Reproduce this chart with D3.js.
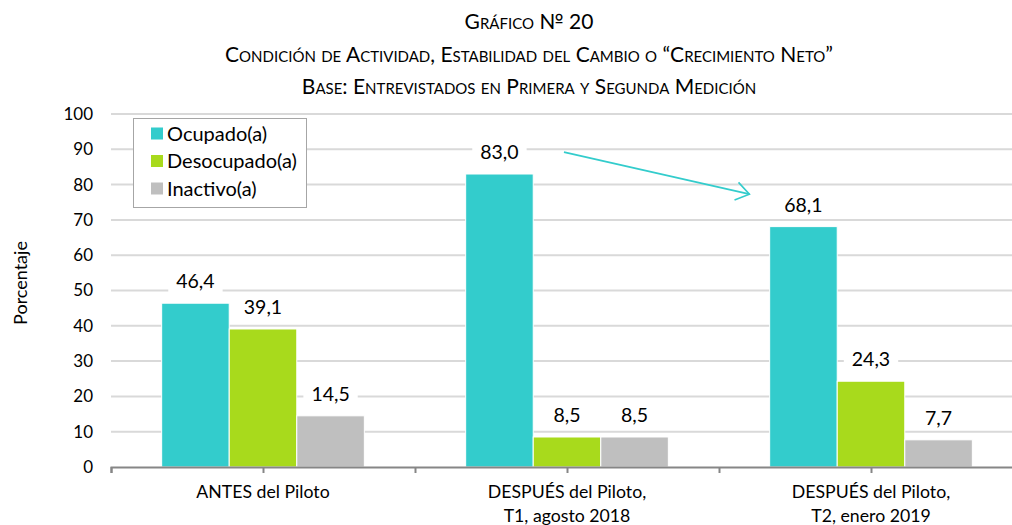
<!DOCTYPE html>
<html><head><meta charset="utf-8">
<script src="https://cdn.jsdelivr.net/npm/d3@7"></script>
<style>
html,body{margin:0;padding:0;background:#fff;}
text{font-family:Lato,"Open Sans",sans-serif;fill:#000;}
</style></head>
<body><svg id="c" width="1012" height="525"></svg>
<script>
const categories = [["ANTES del Piloto"], ["DESPUÉS del Piloto,", "T1, agosto 2018"], ["DESPUÉS del Piloto,", "T2, enero 2019"]];
const seriesNames = ["Ocupado(a)", "Desocupado(a)", "Inactivo(a)"];
const seriesColors = ["#33CCCC", "#A8DA1C", "#BFBFBF"];
const ocupado = [46.4, 83.0, 68.1];
const desocupado = [39.1, 8.5, 24.3];
const inactivo = [14.5, 8.5, 7.7];
const yTicks = [0,10,20,30,40,50,60,70,80,90,100];
const titleLines = ["Gráfico № 20", "Condición de Actividad, Estabilidad del Cambio o “Crecimiento Neto”", "Base: Entrevistados en Primera y Segunda Medición"];
const yTitle = "Porcentaje";
// arrow annotation (category index position, value)
const arrowFrom = [1.49, 89.2];
const arrowTo = [2.1, 77.3];

const values = [ocupado, desocupado, inactivo];
const svg = d3.select("#c");
const L = 111, R = 1023, T = 114, B = 467;

const x = d3.scaleBand().domain(d3.range(categories.length)).range([L, R]).padding(0);
const xs = d3.scaleBand().domain(d3.range(seriesNames.length)).range([0, x.bandwidth()]).paddingInner(0).paddingOuter(0.75);
const xi = d3.scaleLinear().domain([0, categories.length]).range([L, R]);
const y = d3.scaleLinear().domain([0, 100]).range([B, T]);

// title
const tg = svg.append("g");
titleLines.forEach((t, i) => {
  tg.append("text").attr("x", 529).attr("y", [29, 62, 94][i]).attr("text-anchor", "middle")
    .style("font-variant", "small-caps").style("font-size", "21px").text(t);
});

// gridlines
svg.append("g").selectAll("line").data(yTicks.filter(d => d > 0)).join("line")
  .attr("x1", L).attr("x2", R).attr("y1", d => y(d)).attr("y2", d => y(d))
  .attr("stroke", "#D9D9D9").attr("stroke-width", 2);

// y axis labels
const ya = svg.append("g").attr("transform", `translate(${L},0)`)
  .call(d3.axisLeft(y).tickValues(yTicks).tickSize(0).tickPadding(18));
ya.select(".domain").remove();
ya.selectAll("text").style("font-family", "Lato,'Open Sans',sans-serif").style("font-size", "17px").attr("fill", "#000");

// y title
svg.append("text").attr("transform", `translate(27,283) rotate(-90)`).attr("text-anchor", "middle")
  .style("font-size", "18px").text(yTitle);

// bars
const bars = svg.append("g");
values.forEach((vals, s) => {
  bars.selectAll(null).data(vals).join("rect")
    .attr("x", (d, i) => x(i) + xs(s)).attr("width", xs.bandwidth())
    .attr("y", d => y(d)).attr("height", d => B - y(d))
    .attr("fill", seriesColors[s]).attr("stroke", "#fff").attr("stroke-width", 1);
});

// x axis
const xa = svg.append("g").attr("transform", `translate(0,${B})`)
  .call(d3.axisBottom(xi).tickValues(d3.range(0, categories.length + 0.01, 0.5)).tickSize(6).tickFormat(""));
xa.select(".domain").attr("stroke", "#868686").attr("stroke-width", 2);
xa.selectAll(".tick line").attr("stroke", "#868686").attr("stroke-width", 2);

// category labels
categories.forEach((lines, i) => {
  lines.forEach((ln, j) => {
    svg.append("text").attr("x", x(i) + x.bandwidth() / 2).attr("y", 498 + j * 24)
      .attr("text-anchor", "middle").style("font-size", "17.7px").text(ln);
  });
});

// data labels
const fmt = v => d3.format(".1f")(v).replace(".", ",");
const lg = svg.append("g");
values.forEach((vals, s) => {
  vals.forEach((v, i) => {
    const cx = x(i) + xs(s) + xs.bandwidth() / 2;
    const by = y(v) - 15;
    const g = lg.append("g");
    const t = g.append("text").attr("x", cx).attr("y", by).attr("text-anchor", "middle")
      .style("font-size", "19.5px").text(fmt(v));
    const bb = t.node().getBBox();
    g.insert("rect", "text").attr("x", bb.x - 8).attr("y", bb.y - 1).attr("width", bb.width + 16).attr("height", bb.height + 2).attr("fill", "#fff");
  });
});

// arrow
const ax1 = xi(arrowFrom[0]), ay1 = y(arrowFrom[1]), ax2 = xi(arrowTo[0]), ay2 = y(arrowTo[1]);
const ang = Math.atan2(ay2 - ay1, ax2 - ax1);
const hl = 16, ha = 0.6;
svg.append("line").attr("x1", ax1).attr("y1", ay1).attr("x2", ax2).attr("y2", ay2)
  .attr("stroke", "#33CCCC").attr("stroke-width", 1.6);
svg.append("path").attr("d", `M${ax2 - hl * Math.cos(ang - ha)},${ay2 - hl * Math.sin(ang - ha)}L${ax2},${ay2}L${ax2 - hl * Math.cos(ang + ha)},${ay2 - hl * Math.sin(ang + ha)}`)
  .attr("fill", "none").attr("stroke", "#33CCCC").attr("stroke-width", 1.6);

// legend
const leg = svg.append("g").attr("transform", "translate(133,118)");
leg.append("rect").attr("x", 0.5).attr("y", 0.5).attr("width", 173).attr("height", 89).attr("fill", "#fff").attr("stroke", "#A6A6A6");
seriesNames.forEach((n, i) => {
  const cy = 15.5 + i * 27.5;
  leg.append("rect").attr("x", 18).attr("y", cy - 6).attr("width", 12).attr("height", 12).attr("fill", seriesColors[i]);
  leg.append("text").attr("x", 34).attr("y", cy + 7).style("font-size", "20px").text(n);
});
</script></body></html>
